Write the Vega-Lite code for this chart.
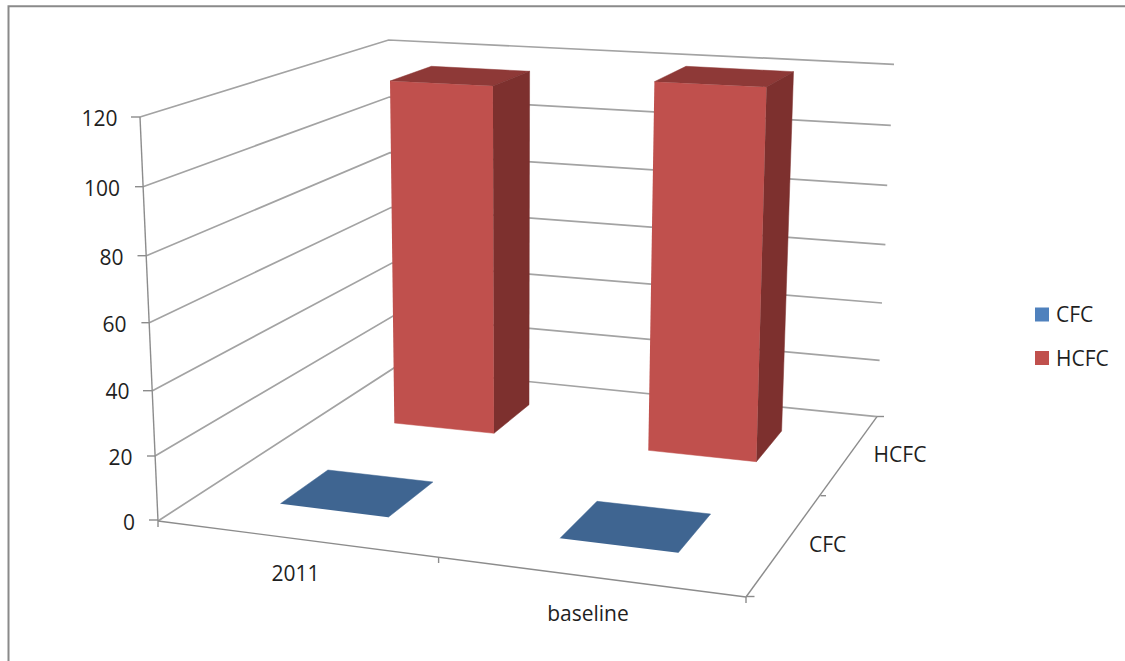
{
  "$schema": "https://vega.github.io/schema/vega-lite/v6.json",
  "width": 1125,
  "height": 661,
  "padding": 0,
  "autosize": "none",
  "background": "white",
  "view": {"stroke": null},
  "config": {"text": {"font": "Open Sans", "fontSize": 21, "fill": "#1f1f1f", "dy": 1.5}},
  "datasets": {
    "edges": [
      {"line": "frame", "kind": "frame", "i": 0, "sx": 8.5, "sy": 661},
      {"line": "frame", "kind": "frame", "i": 1, "sx": 8.5, "sy": 6.3},
      {"line": "frame", "kind": "frame", "i": 2, "sx": 1125, "sy": 6.3},

      {"line": "wall120", "kind": "grid", "i": 0, "sx": 140, "sy": 117},
      {"line": "wall120", "kind": "grid", "i": 1, "sx": 388.6, "sy": 40},
      {"line": "wall120", "kind": "grid", "i": 2, "sx": 894, "sy": 64.3},
      {"line": "wall100", "kind": "grid", "i": 0, "sx": 143, "sy": 186.7},
      {"line": "wall100", "kind": "grid", "i": 1, "sx": 389.3, "sy": 97},
      {"line": "wall100", "kind": "grid", "i": 2, "sx": 890.8, "sy": 125.3},
      {"line": "wall80", "kind": "grid", "i": 0, "sx": 146.4, "sy": 255.7},
      {"line": "wall80", "kind": "grid", "i": 1, "sx": 390, "sy": 152.7},
      {"line": "wall80", "kind": "grid", "i": 2, "sx": 887.2, "sy": 185.3},
      {"line": "wall60", "kind": "grid", "i": 0, "sx": 149.3, "sy": 322.7},
      {"line": "wall60", "kind": "grid", "i": 1, "sx": 391, "sy": 207.5},
      {"line": "wall60", "kind": "grid", "i": 2, "sx": 885.4, "sy": 244.7},
      {"line": "wall40", "kind": "grid", "i": 0, "sx": 152.5, "sy": 390.7},
      {"line": "wall40", "kind": "grid", "i": 1, "sx": 392, "sy": 263},
      {"line": "wall40", "kind": "grid", "i": 2, "sx": 882, "sy": 303},
      {"line": "wall20", "kind": "grid", "i": 0, "sx": 155, "sy": 456},
      {"line": "wall20", "kind": "grid", "i": 1, "sx": 393, "sy": 316},
      {"line": "wall20", "kind": "grid", "i": 2, "sx": 879.6, "sy": 360.3},
      {"line": "wall0", "kind": "grid", "i": 0, "sx": 158, "sy": 521},
      {"line": "wall0", "kind": "grid", "i": 1, "sx": 394, "sy": 368},
      {"line": "wall0", "kind": "grid", "i": 2, "sx": 877, "sy": 416.7},

      {"line": "valueAxis", "kind": "axis", "i": 0, "sx": 140, "sy": 117},
      {"line": "valueAxis", "kind": "axis", "i": 1, "sx": 158, "sy": 521},
      {"line": "categoryAxis", "kind": "axis", "i": 0, "sx": 158, "sy": 521},
      {"line": "categoryAxis", "kind": "axis", "i": 1, "sx": 746, "sy": 597},
      {"line": "seriesAxis", "kind": "axis", "i": 0, "sx": 746, "sy": 597},
      {"line": "seriesAxis", "kind": "axis", "i": 1, "sx": 877, "sy": 416.7},

      {"line": "tick120", "kind": "axis", "i": 0, "sx": 131, "sy": 117},
      {"line": "tick120", "kind": "axis", "i": 1, "sx": 140, "sy": 117},
      {"line": "tick100", "kind": "axis", "i": 0, "sx": 135, "sy": 186.7},
      {"line": "tick100", "kind": "axis", "i": 1, "sx": 143, "sy": 186.7},
      {"line": "tick80", "kind": "axis", "i": 0, "sx": 137.5, "sy": 255.7},
      {"line": "tick80", "kind": "axis", "i": 1, "sx": 146.4, "sy": 255.7},
      {"line": "tick60", "kind": "axis", "i": 0, "sx": 141.4, "sy": 322.7},
      {"line": "tick60", "kind": "axis", "i": 1, "sx": 149.3, "sy": 322.7},
      {"line": "tick40", "kind": "axis", "i": 0, "sx": 143, "sy": 390.7},
      {"line": "tick40", "kind": "axis", "i": 1, "sx": 152.5, "sy": 390.7},
      {"line": "tick20", "kind": "axis", "i": 0, "sx": 147, "sy": 456},
      {"line": "tick20", "kind": "axis", "i": 1, "sx": 155, "sy": 456},
      {"line": "tick0", "kind": "axis", "i": 0, "sx": 149, "sy": 520},
      {"line": "tick0", "kind": "axis", "i": 1, "sx": 158, "sy": 520},
      {"line": "tickCat0", "kind": "axis", "i": 0, "sx": 158, "sy": 521},
      {"line": "tickCat0", "kind": "axis", "i": 1, "sx": 158, "sy": 527},
      {"line": "tickCat1", "kind": "axis", "i": 0, "sx": 438.6, "sy": 557},
      {"line": "tickCat1", "kind": "axis", "i": 1, "sx": 438.6, "sy": 563},
      {"line": "tickCat2", "kind": "axis", "i": 0, "sx": 746, "sy": 597},
      {"line": "tickCat2", "kind": "axis", "i": 1, "sx": 746, "sy": 603},
      {"line": "tickSer0", "kind": "axis", "i": 0, "sx": 746, "sy": 596.5},
      {"line": "tickSer0", "kind": "axis", "i": 1, "sx": 754.5, "sy": 596.5},
      {"line": "tickSer1", "kind": "axis", "i": 0, "sx": 820.5, "sy": 495.7},
      {"line": "tickSer1", "kind": "axis", "i": 1, "sx": 826, "sy": 495.7},
      {"line": "tickSer2", "kind": "axis", "i": 0, "sx": 877, "sy": 416.5},
      {"line": "tickSer2", "kind": "axis", "i": 1, "sx": 884, "sy": 416.5}
    ],
    "faces": [
      {"face": "CFC", "shape": "2011-CFC", "category": "2011", "i": 0, "sx": 280.4, "sy": 503.7},
      {"face": "CFC", "shape": "2011-CFC", "category": "2011", "i": 1, "sx": 327.9, "sy": 470},
      {"face": "CFC", "shape": "2011-CFC", "category": "2011", "i": 2, "sx": 432.9, "sy": 482},
      {"face": "CFC", "shape": "2011-CFC", "category": "2011", "i": 3, "sx": 388.2, "sy": 517.3},
      {"face": "CFC", "shape": "baseline-CFC", "category": "baseline", "i": 0, "sx": 560, "sy": 538.3},
      {"face": "CFC", "shape": "baseline-CFC", "category": "baseline", "i": 1, "sx": 597, "sy": 501.3},
      {"face": "CFC", "shape": "baseline-CFC", "category": "baseline", "i": 2, "sx": 710.6, "sy": 514},
      {"face": "CFC", "shape": "baseline-CFC", "category": "baseline", "i": 3, "sx": 678.2, "sy": 552.7},

      {"face": "HCFC", "shape": "2011-front", "category": "2011", "i": 0, "sx": 390, "sy": 81},
      {"face": "HCFC", "shape": "2011-front", "category": "2011", "i": 1, "sx": 492.9, "sy": 86},
      {"face": "HCFC", "shape": "2011-front", "category": "2011", "i": 2, "sx": 494, "sy": 433.3},
      {"face": "HCFC", "shape": "2011-front", "category": "2011", "i": 3, "sx": 394.3, "sy": 423},
      {"face": "HCFC top", "shape": "2011-top", "category": "2011", "i": 0, "sx": 390, "sy": 81},
      {"face": "HCFC top", "shape": "2011-top", "category": "2011", "i": 1, "sx": 431.4, "sy": 66.3},
      {"face": "HCFC top", "shape": "2011-top", "category": "2011", "i": 2, "sx": 529.6, "sy": 71.3},
      {"face": "HCFC top", "shape": "2011-top", "category": "2011", "i": 3, "sx": 492.9, "sy": 86},
      {"face": "HCFC side", "shape": "2011-side", "category": "2011", "i": 0, "sx": 492.9, "sy": 86},
      {"face": "HCFC side", "shape": "2011-side", "category": "2011", "i": 1, "sx": 529.6, "sy": 71.3},
      {"face": "HCFC side", "shape": "2011-side", "category": "2011", "i": 2, "sx": 529, "sy": 404.7},
      {"face": "HCFC side", "shape": "2011-side", "category": "2011", "i": 3, "sx": 494, "sy": 433.3},

      {"face": "HCFC", "shape": "baseline-front", "category": "baseline", "i": 0, "sx": 654.4, "sy": 81.7},
      {"face": "HCFC", "shape": "baseline-front", "category": "baseline", "i": 1, "sx": 766.5, "sy": 87},
      {"face": "HCFC", "shape": "baseline-front", "category": "baseline", "i": 2, "sx": 756.4, "sy": 461.7},
      {"face": "HCFC", "shape": "baseline-front", "category": "baseline", "i": 3, "sx": 648.3, "sy": 450.3},
      {"face": "HCFC top", "shape": "baseline-top", "category": "baseline", "i": 0, "sx": 654.4, "sy": 81.7},
      {"face": "HCFC top", "shape": "baseline-top", "category": "baseline", "i": 1, "sx": 686, "sy": 66.3},
      {"face": "HCFC top", "shape": "baseline-top", "category": "baseline", "i": 2, "sx": 793.5, "sy": 71.7},
      {"face": "HCFC top", "shape": "baseline-top", "category": "baseline", "i": 3, "sx": 766.5, "sy": 87},
      {"face": "HCFC side", "shape": "baseline-side", "category": "baseline", "i": 0, "sx": 766.5, "sy": 87},
      {"face": "HCFC side", "shape": "baseline-side", "category": "baseline", "i": 1, "sx": 793.5, "sy": 71.7},
      {"face": "HCFC side", "shape": "baseline-side", "category": "baseline", "i": 2, "sx": 781.6, "sy": 431},
      {"face": "HCFC side", "shape": "baseline-side", "category": "baseline", "i": 3, "sx": 756.4, "sy": 461.7}
    ],
    "valueLabels": [
      {"label": "120", "sx": 117.5, "sy": 118.5},
      {"label": "100", "sx": 120, "sy": 188.5},
      {"label": "80", "sx": 123.5, "sy": 257.5},
      {"label": "60", "sx": 126.5, "sy": 324},
      {"label": "40", "sx": 129.5, "sy": 391.5},
      {"label": "20", "sx": 132.5, "sy": 457},
      {"label": "0", "sx": 135, "sy": 522}
    ],
    "axisLabels": [
      {"label": "2011", "sx": 295.4, "sy": 573},
      {"label": "baseline", "sx": 588, "sy": 613},
      {"label": "CFC", "sx": 827.6, "sy": 544},
      {"label": "HCFC", "sx": 900, "sy": 454}
    ],
    "legendItems": [
      {"series": "CFC", "swatch": "#4F81BD", "sx": 1042, "sy": 314.5, "tx": 1056},
      {"series": "HCFC", "swatch": "#C0504D", "sx": 1042, "sy": 358, "tx": 1056}
    ]
  },
  "encoding": {
    "x": {"field": "sx", "type": "quantitative", "axis": null, "scale": {"domain": [0, 1125], "range": [0, 1125], "nice": false, "zero": false}},
    "y": {"field": "sy", "type": "quantitative", "axis": null, "scale": {"domain": [661, 0], "range": [661, 0], "nice": false, "zero": false}}
  },
  "layer": [
    {
      "data": {"name": "edges"},
      "mark": {"type": "line", "strokeCap": "butt", "strokeJoin": "miter"},
      "encoding": {
        "detail": {"field": "line"},
        "order": {"field": "i", "type": "quantitative"},
        "color": {
          "field": "kind",
          "scale": {"domain": ["frame", "grid", "axis"], "range": ["#8A8A8A", "#A3A3A3", "#8C8C8C"]},
          "legend": null
        },
        "strokeWidth": {
          "field": "kind",
          "scale": {"domain": ["frame", "grid", "axis"], "range": [2, 1.4, 1.5]},
          "legend": null
        }
      }
    },
    {
      "data": {"name": "faces"},
      "mark": {"type": "line", "filled": true, "strokeWidth": 0.5},
      "encoding": {
        "detail": {"field": "shape"},
        "order": {"field": "i", "type": "quantitative"},
        "fill": {
          "field": "face",
          "scale": {
            "domain": ["CFC", "HCFC", "HCFC top", "HCFC side"],
            "range": ["#3F6591", "#C0504D", "#8E3937", "#7D302E"]
          },
          "legend": null
        },
        "stroke": {
          "field": "face",
          "scale": {
            "domain": ["CFC", "HCFC", "HCFC top", "HCFC side"],
            "range": ["#3F6591", "#C0504D", "#8E3937", "#7D302E"]
          },
          "legend": null
        }
      }
    },
    {
      "data": {"name": "valueLabels"},
      "mark": {"type": "text", "align": "right", "baseline": "middle"},
      "encoding": {"text": {"field": "label"}}
    },
    {
      "data": {"name": "axisLabels"},
      "mark": {"type": "text", "align": "center", "baseline": "middle"},
      "encoding": {"text": {"field": "label"}}
    },
    {
      "data": {"name": "legendItems"},
      "mark": {"type": "square", "size": 196, "filled": true, "opacity": 1},
      "encoding": {"color": {"field": "swatch", "type": "nominal", "scale": null}}
    },
    {
      "data": {"name": "legendItems"},
      "mark": {"type": "text", "align": "left", "baseline": "middle"},
      "encoding": {
        "x": {"field": "tx", "type": "quantitative"},
        "text": {"field": "series"}
      }
    }
  ]
}
